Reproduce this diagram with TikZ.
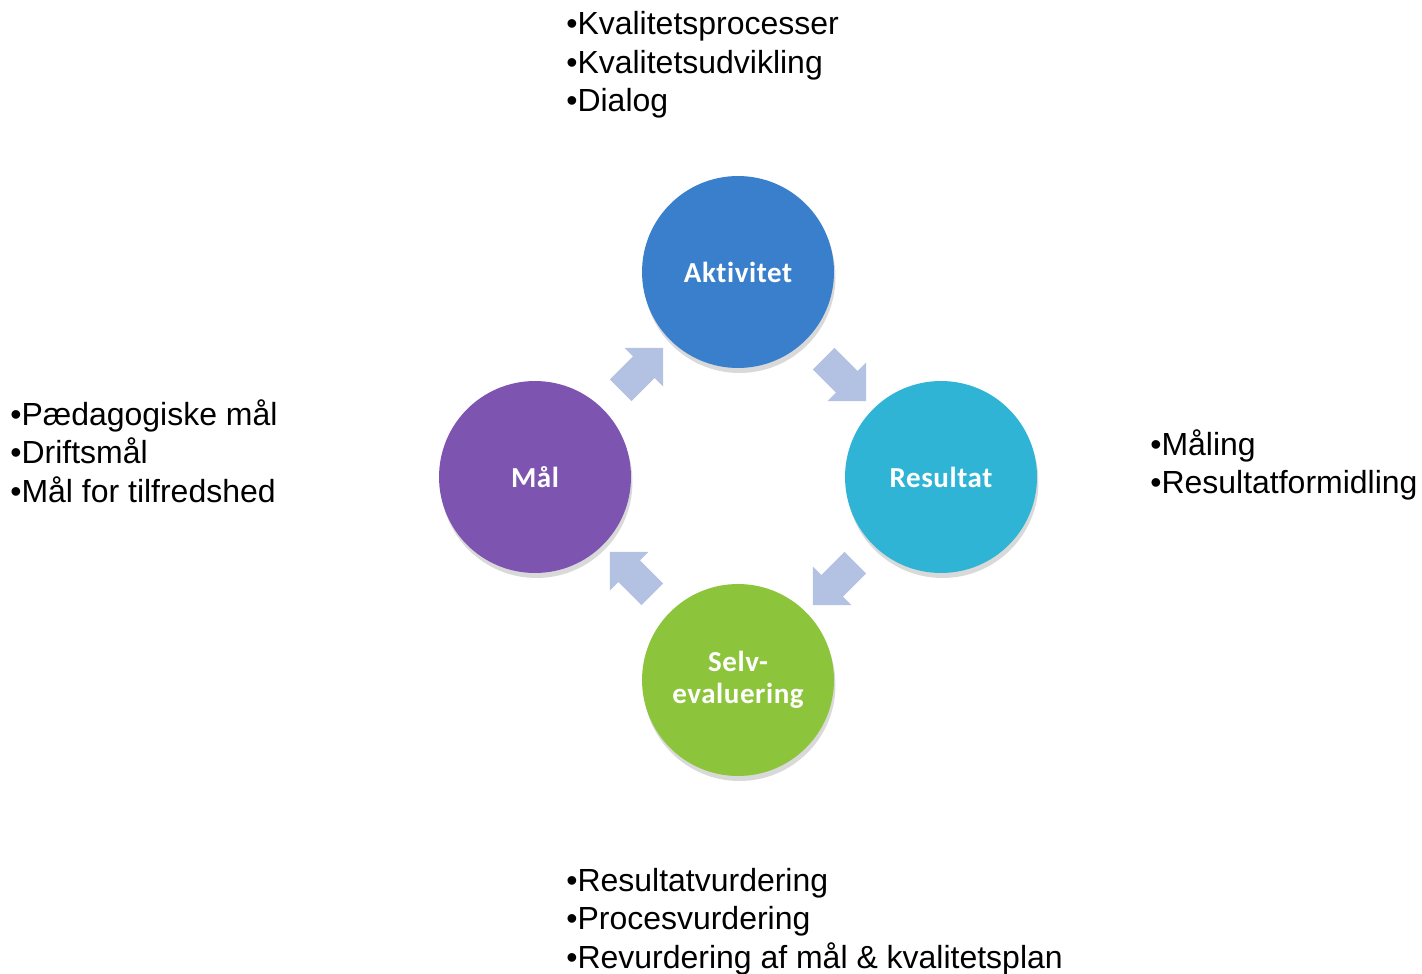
\documentclass[tikz,border=0pt]{standalone}
\usepackage{fontspec}
\setmainfont{Liberation Sans}
\newfontfamily\ballfont[Ligatures=NoCommon,LetterSpace=2]{Carlito}
\usetikzlibrary{calc,shapes.arrows,shadows}

\definecolor{aktblue}{HTML}{3A7FCC}
\definecolor{malpurple}{HTML}{7D55B0}
\definecolor{rescyan}{HTML}{2FB4D6}
\definecolor{selvgreen}{HTML}{8CC43C}
\definecolor{arrowblue}{HTML}{B3C2E2}

\begin{document}
\begin{tikzpicture}[line cap=round,line join=round,x=0.02cm,y=-0.02cm,
		ball/.style={circle,minimum size=3.84cm,inner sep=0,text=white,align=center,
			font=\ballfont\bfseries\fontsize{16.5}{18.5}\selectfont,
			drop shadow={opacity=0.3,shadow xshift=0.03cm,shadow yshift=-0.1cm}},
		flowarrow/.style={single arrow,fill=arrowblue,inner xsep=0,inner ysep=0.3cm,
			minimum height=1.2cm,single arrow head extend=0.24cm},
		bullet/.style={anchor=base west,inner sep=0,font=\fontsize{18.2}{21.9}\selectfont}]
	\useasboundingbox (0,0) rectangle (1422,973);
	% the four balls
	\node[ball,fill=aktblue] (akt) at (738,272) {Aktivitet};
	\node[ball,fill=malpurple] (mal) at (535,477) {Mål};
	\node[ball,fill=rescyan] (res) at (941,477) {Resultat};
	\node[ball,fill=selvgreen] (selv) at (738,680) {Selv-\\evaluering};
	% arrows between them
	\node[flowarrow,rotate=45] (malakt) at ($(mal)!0.5!(akt)$) {};
	\node[flowarrow,rotate=-45] (aktres) at ($(akt)!0.5!(res)$) {};
	\node[flowarrow,rotate=-135] (resselv) at ($(res)!0.5!(selv)$) {};
	\node[flowarrow,rotate=135] (selvmal) at ($(selv)!0.5!(mal)$) {};
	% text top
	\node[bullet] (top1) at (566,35) {•Kvalitetsprocesser};
	\node[bullet] (top2) at (566,73.5) {•Kvalitetsudvikling};
	\node[bullet] (top3) at (566,112) {•Dialog};
	% text left
	\node[bullet] (left1) at (10,425) {•Pædagogiske mål};
	\node[bullet] (left2) at (10,463.5) {•Driftsmål};
	\node[bullet] (left3) at (10,502) {•Mål for tilfredshed};
	% text right
	\node[bullet] (right1) at (1150,455) {•Måling};
	\node[bullet] (right2) at (1150,493.5) {•Resultatformidling};
	% text bottom
	\node[bullet] (bot1) at (566,891) {•Resultatvurdering};
	\node[bullet] (bot2) at (566,929.5) {•Procesvurdering};
	\node[bullet] (bot3) at (566,968) {•Revurdering af mål \& kvalitetsplan};
\end{tikzpicture}
\end{document}
